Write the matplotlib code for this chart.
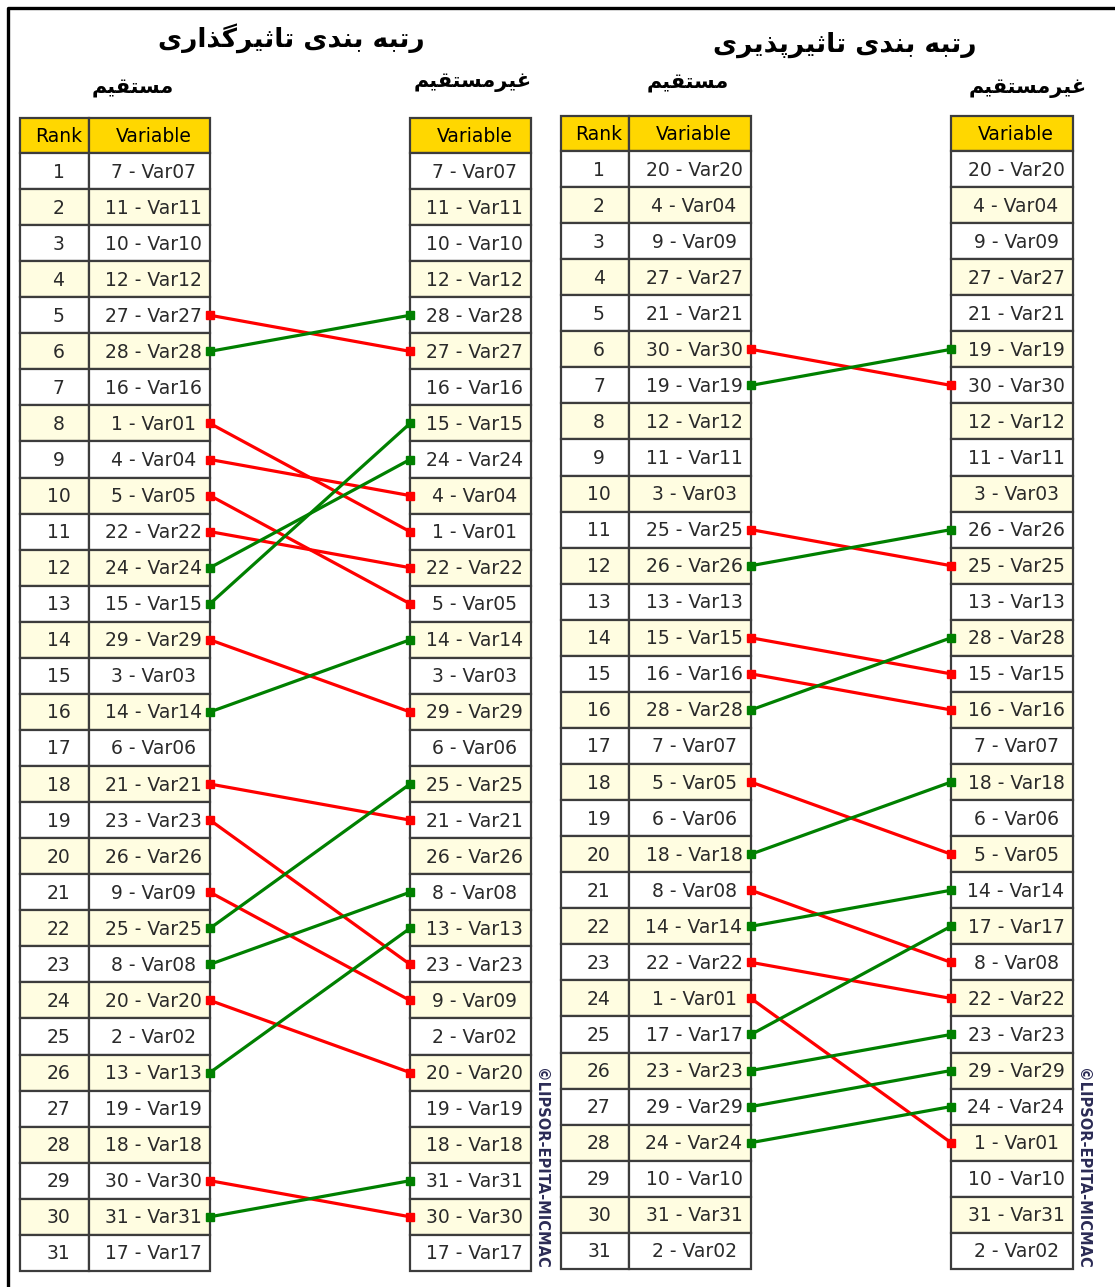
import numpy as np
import matplotlib
matplotlib.use("Agg")
import matplotlib.pyplot as plt
from matplotlib.patches import Rectangle

# ranking of variables (direct vs indirect)
infl_direct = [7, 11, 10, 12, 27, 28, 16, 1, 4, 5, 22, 24, 15, 29, 3, 14, 6, 21, 23, 26, 9, 25, 8, 20, 2, 13, 19, 18, 30, 31, 17]
infl_indirect = [7, 11, 10, 12, 28, 27, 16, 15, 24, 4, 1, 22, 5, 14, 3, 29, 6, 25, 21, 26, 8, 13, 23, 9, 2, 20, 19, 18, 31, 30, 17]
dep_direct = [20, 4, 9, 27, 21, 30, 19, 12, 11, 3, 25, 26, 13, 15, 16, 28, 7, 5, 6, 18, 8, 14, 22, 1, 17, 23, 29, 24, 10, 31, 2]
dep_indirect = [20, 4, 9, 27, 21, 19, 30, 12, 11, 3, 26, 25, 13, 28, 15, 16, 7, 18, 6, 5, 14, 17, 8, 22, 23, 29, 24, 1, 10, 31, 2]

title_infl = "رتبه بندی تاثیرگذاری"
title_dep = "رتبه بندی تاثیرپذیری"
label_direct = "مستقیم"
label_indirect = "غیرمستقیم"
watermark = "©LIPSOR-EPITA-MICMAC"

# matplotlib has no arabic shaping, so pick presentation forms by hand
# (isolated, final, initial, medial); None = letter does not join to the next one
FORMS = {
    'ا': (0xFE8D, 0xFE8E, None, None),
    'ب': (0xFE8F, 0xFE90, 0xFE91, 0xFE92),
    'پ': (0xFB56, 0xFB57, 0xFB58, 0xFB59),
    'ت': (0xFE95, 0xFE96, 0xFE97, 0xFE98),
    'ث': (0xFE99, 0xFE9A, 0xFE9B, 0xFE9C),
    'د': (0xFEA9, 0xFEAA, None, None),
    'ذ': (0xFEAB, 0xFEAC, None, None),
    'ر': (0xFEAD, 0xFEAE, None, None),
    'س': (0xFEB1, 0xFEB2, 0xFEB3, 0xFEB4),
    'غ': (0xFECD, 0xFECE, 0xFECF, 0xFED0),
    'ق': (0xFED5, 0xFED6, 0xFED7, 0xFED8),
    'گ': (0xFB92, 0xFB93, 0xFB94, 0xFB95),
    'م': (0xFEE1, 0xFEE2, 0xFEE3, 0xFEE4),
    'ن': (0xFEE5, 0xFEE6, 0xFEE7, 0xFEE8),
    'ه': (0xFEE9, 0xFEEA, 0xFEEB, 0xFEEC),
    'ی': (0xFBFC, 0xFBFD, 0xFBFE, 0xFBFF),
}

def shape(text):
    out = []
    for i, c in enumerate(text):
        if c not in FORMS:
            out.append(c)
            continue
        prev = text[i-1] if i > 0 else None
        nxt = text[i+1] if i+1 < len(text) else None
        jp = prev in FORMS and FORMS[prev][2] is not None
        jn = nxt in FORMS and FORMS[c][2] is not None
        iso, fin, ini, med = FORMS[c]
        if jp and jn:
            out.append(chr(med))
        elif jp:
            out.append(chr(fin))
        elif jn:
            out.append(chr(ini))
        else:
            out.append(chr(iso))
    return ''.join(reversed(out))

W, H = 1115, 1287
fig = plt.figure(figsize=(W/100, H/100), dpi=100)
ax = fig.add_axes([0, 0, 1, 1])
ax.set_xlim(0, W)
ax.set_ylim(H, 0)
ax.axis('off')

# outer frame (only top and left show)
ax.plot([8, 8, W], [H, 8, 8], color='black', lw=2.4, solid_capstyle='butt')

gold = '#FFD700'
pale = '#FFFDE1'
edge = '#3c3c3c'
txtc = '#2a2a2a'
rowh = 36.06
headh = 35

def cell(x0, x1, y0, h, txt, fc, tc=txtc):
    ax.add_patch(Rectangle((x0, y0), x1 - x0, h, facecolor=fc, edgecolor=edge, lw=1.6, zorder=2))
    ax.text((x0 + x1)/2 + 4, y0 + h/2 + 1, txt, ha='center', va='center', fontsize=13.5,
            color=tc, zorder=3)

def var_name(n):
    return "{} - Var{:02d}".format(n, n)

def panel(direct, indirect, xr, xv, xi, top, title, tx, ty, ldx, ldy, lix, liy):
    # xr, xv, xi: (left, right) of rank col, variable col, indirect col
    ax.text(tx, ty, shape(title), ha='center', va='center', fontsize=19, fontweight='bold')
    ax.text(ldx, ldy, shape(label_direct), ha='center', va='center', fontsize=15, fontweight='bold')
    ax.text(lix, liy, shape(label_indirect), ha='center', va='center', fontsize=15, fontweight='bold')

    cell(xr[0], xr[1], top, headh, "Rank", gold, 'black')
    cell(xv[0], xv[1], top, headh, "Variable", gold, 'black')
    cell(xi[0], xi[1], top, headh, "Variable", gold, 'black')
    for i in range(len(direct)):
        y0 = top + headh + i*rowh
        fc = 'white' if i % 2 == 0 else pale
        cell(xr[0], xr[1], y0, rowh, str(i + 1), fc)
        cell(xv[0], xv[1], y0, rowh, var_name(direct[i]), fc)
        cell(xi[0], xi[1], y0, rowh, var_name(indirect[i]), fc)

    # connect variables whose rank moved
    for i, v in enumerate(direct):
        j = indirect.index(v)
        if j == i:
            continue
        col = '#FF0000' if j > i else '#008000'
        y1 = top + headh + (i + 0.5)*rowh
        y2 = top + headh + (j + 0.5)*rowh
        ax.plot([xv[1], xi[0]], [y1, y2], color=col, lw=2.3, marker='s', markersize=6,
                zorder=4 if col == '#008000' else 3.5)

    ax.text(xi[1] + 10, 1068, watermark, rotation=270, ha='center', va='top',
            fontsize=10.5, fontweight='bold', color='#2b2b55')

panel(infl_direct, infl_indirect, (20, 89), (89, 210), (410, 531), 118,
      title_infl, 291, 38, 133, 88, 473, 82)
panel(dep_direct, dep_indirect, (561, 629), (629, 751), (951, 1073), 116,
      title_dep, 845, 45, 688, 83, 1028, 88)

fig.savefig("out.png", dpi=100)
